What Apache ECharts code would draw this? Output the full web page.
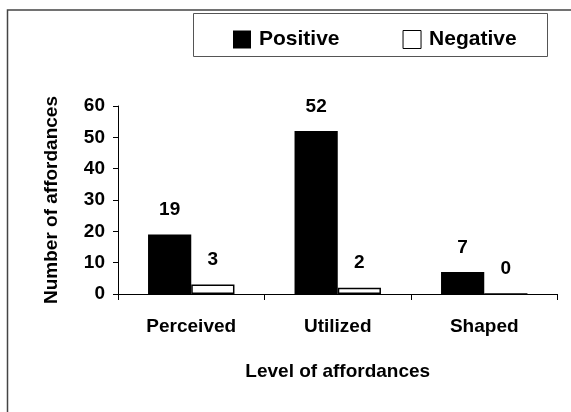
<!DOCTYPE html>
<html>
<head>
<meta charset="utf-8">
<script src="https://cdn.jsdelivr.net/npm/echarts@6/dist/echarts.min.js"></script>
<style>
  html, body { margin: 0; padding: 0; background: #fff; }
  #chart { width: 571px; height: 412px; }
</style>
</head>
<body>
<div id="chart"></div>
<script>
const categories = ['Perceived', 'Utilized', 'Shaped']
const positive = [19, 52, 7]
const negative = [3, 2, 0]
const yTicks = [0, 10, 20, 30, 40, 50, 60]

const font = 'Liberation Sans, Arial, sans-serif'
let chart = echarts.init(document.getElementById('chart'))
let labelStyle = {
  show: true,
  position: 'top',
  distance: 15,
  color: '#000',
  fontFamily: font,
  fontWeight: 'bold',
  fontSize: 19
}
let option = {
  animation: false,
  graphic: [
    {
      type: 'rect',
      shape: { x: 7.5, y: 10, width: 600, height: 500 },
      style: { fill: 'none', stroke: '#444', lineWidth: 1.5 }
    },
    {
      type: 'rect',
      shape: { x: 193.5, y: 13.5, width: 354, height: 43 },
      style: { fill: 'none', stroke: '#555', lineWidth: 1 }
    }
  ],
  legend: {
    left: 228,
    top: 24,
    itemWidth: 18,
    itemHeight: 18,
    itemGap: 63,
    icon: 'rect',
    textStyle: { color: '#000', fontFamily: font, fontWeight: 'bold', fontSize: 21, padding: [0, 0, 0, 3] },
    data: [
      { name: 'Positive', itemStyle: { color: '#000' } },
      { name: 'Negative', itemStyle: { color: '#fff', borderColor: '#000', borderWidth: 1 } }
    ]
  },
  grid: {
    left: 118,
    right: 13.5,
    top: 106,
    bottom: 118
  },
  xAxis: {
    type: 'category',
    data: categories,
    name: 'Level of affordances',
    nameLocation: 'middle',
    nameGap: 68,
    nameTextStyle: { color: '#000', fontFamily: font, fontWeight: 'bold', fontSize: 19 },
    axisLine: { lineStyle: { color: '#000', width: 1 } },
    axisTick: { show: true, length: 6, lineStyle: { color: '#000' } },
    axisLabel: { color: '#000', fontFamily: font, fontWeight: 'bold', fontSize: 19, margin: 23 }
  },
  yAxis: {
    type: 'value',
    min: yTicks[0],
    max: yTicks[yTicks.length - 1],
    interval: 10,
    name: 'Number of affordances',
    nameLocation: 'middle',
    nameGap: 57,
    nameTextStyle: { color: '#000', fontFamily: font, fontWeight: 'bold', fontSize: 19 },
    axisLine: { show: true, lineStyle: { color: '#000', width: 1 } },
    axisTick: { show: true, length: 5, lineStyle: { color: '#000' } },
    axisLabel: { color: '#000', fontFamily: font, fontWeight: 'bold', fontSize: 19, margin: 13 },
    splitLine: { show: false }
  },
  series: [
    {
      name: 'Positive',
      type: 'bar',
      data: positive,
      barGap: '0%',
      barCategoryGap: '41%',
      itemStyle: { color: '#000' },
      label: labelStyle
    },
    {
      name: 'Negative',
      type: 'bar',
      data: negative,
      itemStyle: { color: '#fff', borderColor: '#000', borderWidth: 1.5 },
      label: labelStyle
    }
  ]
}
chart.setOption(option)
</script>
</body>
</html>
